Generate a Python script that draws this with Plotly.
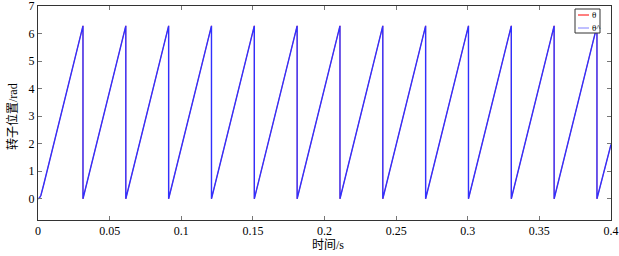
import plotly.graph_objects as go

# ---- data: sawtooth vertices of rotor position (rad) vs time (s) ----
drop_t = [0.0314, 0.0613, 0.0912, 0.1211, 0.1510, 0.1809, 0.2108,
          0.2407, 0.2706, 0.3005, 0.3304, 0.3603, 0.3902]
peak_val = 6.28
start_t = [0.0, 0.001, 0.002, 0.003, 0.004]
start_v = [0.0, 0.03, 0.12, 0.30, 0.52]
end_t = 0.4
end_v = 1.97

theta_t = list(start_t)
theta_v = list(start_v)
for t in drop_t:
    theta_t += [t, t]
    theta_v += [peak_val, 0.0]
theta_t.append(end_t)
theta_v.append(end_v)

theta_ref_t = list(theta_t)
theta_ref_v = list(theta_v)

xticks = [0, 0.05, 0.1, 0.15, 0.2, 0.25, 0.3, 0.35, 0.4]
xtick_text = ["0", "0.05", "0.1", "0.15", "0.2", "0.25", "0.3", "0.35", "0.4"]
yticks = [0, 1, 2, 3, 4, 5, 6, 7]

RED = "#ff0000"
BLUE = "#3030ff"
FONT = "Liberation Serif, Times New Roman, Noto Sans CJK SC, serif"

# plot area in pixels: x 38..611, y 6..220
W, H = 619, 256
ML, MR, MT, MB = 38, 8, 6, 36
PW, PH = W - ML - MR, H - MT - MB


def px(x):
    return (x - ML) / PW


def py(y):
    return (H - MB - y) / PH


fig = go.Figure()
# theta (red) sits underneath theta^ (blue); the blue one hides it almost entirely
fig.add_trace(go.Scatter(x=theta_t, y=theta_v, mode="lines", name="θ",
                         line=dict(color=RED, width=0.6), showlegend=False))
fig.add_trace(go.Scatter(x=theta_ref_t, y=theta_ref_v, mode="lines", name="θ^",
                         line=dict(color=BLUE, width=1.4), showlegend=False))

axis_common = dict(showgrid=False, zeroline=False, showline=True, linecolor="#333333",
                   linewidth=1, mirror="ticks", ticks="inside", ticklen=4,
                   tickcolor="#777777", automargin=False, ticklabeloverflow="allow",
                   tickfont=dict(family=FONT, size=12, color="black"))
fig.update_xaxes(range=[0, 0.4], tickvals=xticks, ticktext=xtick_text, **axis_common)
fig.update_yaxes(range=[-0.77, 7], tickvals=yticks, **axis_common)

# axis titles
fig.add_annotation(text="时间/s", xref="paper", yref="paper", x=px(328), y=py(245),
                   xanchor="center", yanchor="middle", showarrow=False,
                   font=dict(family=FONT, size=12, color="black"))
fig.add_annotation(text="转子位置/rad", xref="paper", yref="paper", x=px(12), y=py(117),
                   xanchor="center", yanchor="middle", showarrow=False, textangle=-90,
                   font=dict(family=FONT, size=12, color="black"))

# compact legend box (top right)
fig.add_shape(type="rect", xref="paper", yref="paper",
              x0=px(575), x1=px(600), y0=py(33), y1=py(9),
              line=dict(color="#333333", width=1), fillcolor="white", layer="above")
fig.add_shape(type="line", xref="paper", yref="paper",
              x0=px(578), x1=px(589), y0=py(15), y1=py(15),
              line=dict(color=RED, width=1), layer="above")
fig.add_shape(type="line", xref="paper", yref="paper",
              x0=px(578), x1=px(589), y0=py(28), y1=py(28),
              line=dict(color="#8080ff", width=1), layer="above")
fig.add_annotation(text="θ", xref="paper", yref="paper", x=px(590), y=py(15),
                   xanchor="left", yanchor="middle", showarrow=False,
                   font=dict(family=FONT, size=9, color="black"))
fig.add_annotation(text="θ^", xref="paper", yref="paper", x=px(590), y=py(28),
                   xanchor="left", yanchor="middle", showarrow=False,
                   font=dict(family=FONT, size=9, color="black"))

fig.update_layout(
    width=W, height=H,
    margin=dict(l=ML, r=MR, t=MT, b=MB),
    paper_bgcolor="white", plot_bgcolor="white",
    showlegend=False,
)

# drop the default body margin so the figure sits flush with the window
fig.write_html("out.html", config={"displayModeBar": False},
               post_script="document.body.style.margin='0px';")
